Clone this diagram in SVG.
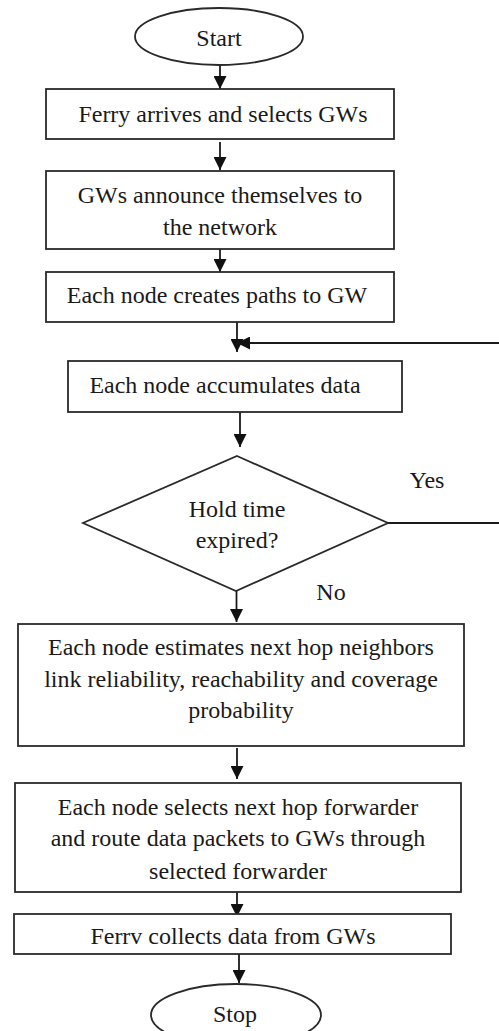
<svg xmlns="http://www.w3.org/2000/svg" width="499" height="1031" viewBox="0 0 499 1031">
<style>
  .shape { fill: #ffffff; stroke: #2a2a2a; stroke-width: 1.8; }
  .conn { fill: none; stroke: #1a1a1a; stroke-width: 1.8; }
  .t { font-family: 'Liberation Serif', 'DejaVu Serif', serif; font-size: 24px; fill: #1a1a1a; text-anchor: middle; }
</style>
<defs>
  <marker id="arrow" markerUnits="userSpaceOnUse" markerWidth="13" markerHeight="13" refX="13" refY="6.5" orient="auto">
    <path d="M0,0 L13,6.5 L0,13 z" fill="#111111"/>
  </marker>
</defs>
<rect x="0" y="0" width="499" height="1031" fill="#ffffff"/>

<g id="connectors">
  <path class="conn" d="M220,65 L220,89" marker-end="url(#arrow)"/>
  <path class="conn" d="M220,142 L220,170" marker-end="url(#arrow)"/>
  <path class="conn" d="M220,249 L220,272" marker-end="url(#arrow)"/>
  <path class="conn" d="M237,322 L237,352" marker-end="url(#arrow)"/>
  <path class="conn" d="M388,523 L505,523 L505,343 L237,343" marker-end="url(#arrow)"/>
  <path class="conn" d="M240,412 L240,447" marker-end="url(#arrow)"/>
  <path class="conn" d="M236.5,591 L236.5,622" marker-end="url(#arrow)"/>
  <path class="conn" d="M237,748 L237,779" marker-end="url(#arrow)"/>
  <path class="conn" d="M237,892 L237,917" marker-end="url(#arrow)"/>
  <path class="conn" d="M239,954 L239,983" marker-end="url(#arrow)"/>
</g>

<g id="start">
  <ellipse class="shape" cx="219" cy="36.5" rx="84" ry="28.5"/>
  <text class="t" x="219" y="46">Start</text>
</g>

<g id="ferry-arrives">
  <rect class="shape" x="46" y="89" width="348" height="50"/>
  <text class="t" x="223" y="122">Ferry arrives and selects GWs</text>
</g>

<g id="gws-announce">
  <rect class="shape" x="46" y="171" width="348" height="78"/>
  <text class="t" x="220" y="203">GWs announce themselves to</text>
  <text class="t" x="220" y="235">the network</text>
</g>

<g id="create-paths">
  <rect class="shape" x="46" y="272" width="348" height="50"/>
  <text class="t" x="217" y="303">Each node creates paths to GW</text>
</g>

<g id="accumulate">
  <rect class="shape" x="68" y="361" width="334" height="51"/>
  <text class="t" x="225" y="393">Each node accumulates data</text>
</g>

<g id="hold-time">
  <polygon class="shape" points="237,456 388,523 236,591 83,523"/>
  <text class="t" x="237" y="517">Hold time</text>
  <text class="t" x="237" y="548">expired?</text>
</g>

<g id="labels">
  <text class="t" x="427" y="488">Yes</text>
  <text class="t" x="331" y="600">No</text>
</g>

<g id="estimate">
  <rect class="shape" x="18" y="624" width="446" height="122"/>
  <text class="t" x="241" y="655">Each node estimates next hop neighbors</text>
  <text class="t" x="241" y="687">link reliability, reachability and coverage</text>
  <text class="t" x="241" y="718">probability</text>
</g>

<g id="select-forwarder">
  <rect class="shape" x="15" y="783" width="446" height="109"/>
  <text class="t" x="238" y="815">Each node selects next hop forwarder</text>
  <text class="t" x="238" y="846">and route data packets to GWs through</text>
  <text class="t" x="238" y="879">selected forwarder</text>
</g>

<g id="ferry-collects">
  <rect class="shape" x="14" y="914" width="437" height="40"/>
  <text class="t" x="233" y="944">Ferrv collects data from GWs</text>
</g>

<g id="stop">
  <ellipse class="shape" cx="236" cy="1015" rx="85" ry="31"/>
  <text class="t" x="235" y="1022">Stop</text>
</g>
</svg>
